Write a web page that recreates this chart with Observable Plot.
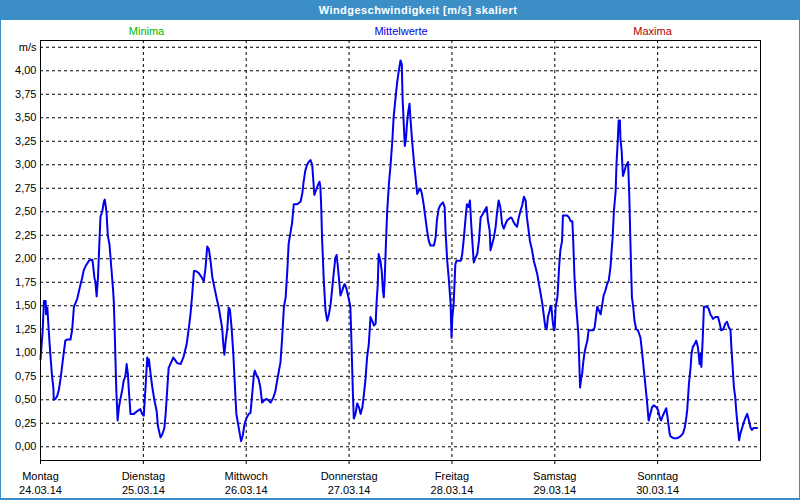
<!DOCTYPE html>
<html>
<head>
<meta charset="utf-8">
<script src="https://cdn.jsdelivr.net/npm/d3@7"></script>
<script src="https://cdn.jsdelivr.net/npm/@observablehq/plot@0.6"></script>
<style>
  html, body { margin: 0; padding: 0; background: #ffffff; }
  #wrap { position: relative; width: 800px; height: 500px; overflow: hidden; background: #ffffff; font-family: "Liberation Sans", Arial, sans-serif; }
  #titlebar { position: absolute; left: 0; top: 0; width: 800px; height: 20px; background: #3c8fc6; color: #ffffff; font-weight: bold; font-size: 11px; line-height: 20px; text-align: center; box-sizing: border-box; padding-left: 36px; letter-spacing: 0.45px; }
  .leg { position: absolute; top: 25px; font-size: 11px; line-height: 13px; transform: translateX(-50%); white-space: nowrap; }
  #border { position: absolute; left: 0; top: 0; width: 800px; height: 500px; box-sizing: border-box; border-left: 1px solid #3c8fc6; border-right: 1px solid #3c8fc6; border-bottom: 2px solid #3c8fc6; pointer-events: none; }
  #chart { position: absolute; left: 0; top: 36px; }
</style>
</head>
<body>
<div id="wrap">
  <div id="titlebar">Windgeschwindigkeit [m/s] skaliert</div>
  <div class="leg" style="left:146.5px;color:#00b800;">Minima</div>
  <div class="leg" style="left:401px;color:#0000e0;">Mittelwerte</div>
  <div class="leg" style="left:652.5px;color:#b00000;">Maxima</div>
  <div id="chart"></div>
  <div id="border"></div>
</div>
<script>
// Hours since Monday 24.03.14 00:00
const hours = [
  0,0.5,0.8,1.2,1.3,1.6,1.9,2.3,2.7,3.0,3.1,3.5,3.9,4.3,4.7,5.1,5.4,5.8,6.2,7.0,7.4,7.8,8.2,8.6,8.9,9.3,9.7,10.1,10.5,10.9,11.3,12.1,12.3,12.6,12.8,13.1,13.4,13.6,13.8,14.0,14.4,14.8,15.0,15.4,15.7,16.1,16.5,16.9,17.1,17.3,17.5,17.7,18.0,18.3,18.7,19.1,19.4,19.8,20.1,20.4,20.6,21.0,21.8,22.6,23.3,23.7,24.1,
  24.5,24.9,25.1,25.3,25.7,26.1,26.6,27.1,27.4,28.0,28.4,28.9,29.2,29.6,29.9,30.3,31.0,31.9,32.7,33.4,34.1,34.6,35.0,35.4,35.8,36.2,36.9,37.5,38.1,38.5,38.9,39.3,39.7,40.1,40.6,41.1,41.6,42.0,42.4,42.6,42.9,43.2,43.6,43.9,44.2,44.6,45.0,45.3,45.7,46.3,46.8,47.2,47.6,
  48.1,48.6,49.0,49.4,49.8,50.0,50.5,50.9,51.3,51.7,52.1,52.7,53.3,53.7,54.3,54.8,55.2,55.6,56.0,56.4,56.8,57.2,57.6,57.9,58.3,58.7,59.1,59.9,60.7,61.1,61.4,61.8,62.2,62.6,63.0,63.4,63.6,63.9,64.3,64.7,65.1,65.3,65.5,65.7,66.1,66.5,66.9,67.3,67.7,68.1,68.4,68.8,69.1,69.4,69.6,70.0,70.4,70.8,71.0,71.4,71.9,
  72.3,72.5,72.7,72.9,73.1,73.5,73.9,74.3,74.7,75.1,75.4,75.8,76.2,76.6,77.0,77.4,77.8,78.2,78.4,78.7,78.9,79.3,79.6,79.9,80.1,80.3,80.6,80.9,81.3,81.7,82.1,82.4,82.8,83.2,83.6,84.0,84.3,84.5,84.8,85.0,85.3,85.5,85.8,86.1,86.3,86.7,87.1,87.5,87.9,88.3,88.7,89.0,89.4,89.8,90.2,90.6,91.0,91.8,92.2,92.5,92.9,93.3,93.9,94.3,94.5,94.9,95.3,95.7,95.9,96.1,
  96.4,96.8,97.1,98.1,98.4,98.8,99.2,99.5,99.9,100.2,100.5,100.7,101.1,101.5,101.9,102.3,102.7,103.0,103.6,104.1,104.4,104.8,105.0,105.4,105.8,106.2,106.5,106.9,107.3,107.7,108.1,108.5,108.9,109.7,110.0,110.4,110.8,111.2,111.6,112.0,112.4,112.8,113.2,113.5,113.9,114.2,
  114.7,115.1,115.5,115.9,116.3,116.7,117.1,117.4,117.8,118.1,118.4,118.8,119.0,119.2,119.5,119.8,120.0,120.2,120.6,120.8,121.0,121.3,121.7,121.9,122.1,122.9,123.3,123.7,124.1,124.3,124.6,124.9,125.2,125.5,125.7,125.9,126.2,126.4,126.6,126.9,127.2,127.6,127.9,128.5,129.0,129.3,129.6,129.9,130.3,130.7,131.1,131.4,131.8,132.2,132.6,133.0,133.2,133.5,133.8,134.2,134.4,134.7,134.9,135.2,135.3,135.6,135.9,136.3,136.6,136.9,137.1,137.4,137.6,137.8,138.0,138.3,138.6,139.0,139.4,140.0,140.4,140.8,141.2,141.5,141.9,142.3,142.7,143.1,143.7,
  144.1,144.5,144.8,145.2,145.6,146.0,146.2,146.4,146.8,147.0,147.8,148.5,149.3,149.9,150.3,150.6,150.9,151.1,151.3,151.7,151.9,152.2,152.6,153.0,153.4,153.8,154.0,154.2,154.5,154.8,155.2,155.5,155.9,156.3,156.7,156.9,157.5,158.1,158.5,158.8,159.3,159.8,160.2,160.6,161.0,161.2,161.5,161.8,162.1,162.4,162.7,163.0,163.3,163.7,164.1,164.5,164.9,165.3,165.7,166.0,166.4,167.2
];
// Wind speed in m/s
const speeds = [
  0.93,1.23,1.55,1.55,1.41,1.48,1.25,0.98,0.75,0.63,0.50,0.51,0.54,0.61,0.73,0.88,0.99,1.13,1.14,1.14,1.25,1.49,1.53,1.58,1.64,1.72,1.79,1.88,1.92,1.95,1.98,1.99,1.92,1.79,1.76,1.60,1.79,2.01,2.24,2.45,2.50,2.61,2.63,2.50,2.25,2.15,1.92,1.69,1.55,1.25,0.91,0.59,0.28,0.42,0.52,0.61,0.70,0.75,0.88,0.77,0.61,0.35,0.35,0.38,0.40,0.35,0.33,
  0.63,0.95,0.86,0.93,0.77,0.63,0.49,0.38,0.22,0.10,0.13,0.20,0.35,0.63,0.84,0.88,0.95,0.89,0.88,0.96,1.09,1.26,1.41,1.62,1.87,1.87,1.85,1.81,1.76,1.90,2.13,2.10,1.97,1.80,1.69,1.58,1.48,1.37,1.26,1.12,0.98,1.12,1.26,1.48,1.46,1.26,0.98,0.70,0.35,0.19,0.06,0.12,0.24,
  0.31,0.35,0.36,0.56,0.77,0.81,0.75,0.72,0.63,0.47,0.49,0.51,0.49,0.47,0.52,0.59,0.70,0.80,0.90,1.17,1.49,1.59,1.88,2.16,2.27,2.38,2.58,2.58,2.61,2.70,2.82,2.94,3.00,3.03,3.05,3.00,2.87,2.68,2.73,2.78,2.82,2.77,2.55,2.22,1.77,1.45,1.34,1.41,1.52,1.70,1.84,2.01,2.04,1.91,1.81,1.61,1.66,1.72,1.73,1.68,1.58,
  1.49,1.20,0.88,0.56,0.30,0.35,0.46,0.42,0.35,0.42,0.53,0.70,0.95,1.09,1.38,1.34,1.29,1.31,1.52,1.73,2.05,1.98,1.88,1.66,1.59,1.77,2.16,2.51,2.80,3.01,3.26,3.51,3.69,3.87,4.00,4.11,4.07,3.69,3.40,3.20,3.29,3.43,3.56,3.65,3.51,3.26,3.05,2.87,2.69,2.73,2.74,2.69,2.58,2.44,2.30,2.19,2.14,2.14,2.23,2.41,2.53,2.57,2.60,2.55,2.30,1.98,1.77,1.52,1.16,1.38,
  1.52,1.94,1.98,1.98,2.05,2.23,2.44,2.58,2.55,2.62,2.37,2.23,1.96,2.01,2.05,2.19,2.44,2.46,2.51,2.55,2.41,2.30,2.09,2.16,2.23,2.34,2.48,2.62,2.55,2.37,2.32,2.37,2.41,2.44,2.43,2.39,2.36,2.34,2.44,2.51,2.57,2.66,2.62,2.44,2.30,2.19,
  2.09,1.98,1.91,1.84,1.73,1.63,1.52,1.41,1.27,1.25,1.38,1.45,1.50,1.49,1.34,1.24,1.27,1.49,1.59,1.73,1.91,2.09,2.19,2.46,2.46,2.46,2.44,2.40,2.40,2.19,1.80,1.56,1.38,1.20,0.92,0.63,0.74,0.78,0.88,0.99,1.06,1.13,1.24,1.24,1.24,1.27,1.38,1.49,1.45,1.41,1.52,1.61,1.66,1.73,1.77,1.91,2.05,2.23,2.51,2.72,3.01,3.26,3.47,3.47,3.29,3.15,2.88,2.94,2.99,3.01,3.03,2.65,2.26,1.91,1.59,1.49,1.34,1.25,1.24,1.16,0.99,0.81,0.63,0.49,0.28,0.35,0.42,0.44,0.42,
  0.39,0.31,0.28,0.33,0.37,0.41,0.35,0.28,0.14,0.11,0.09,0.09,0.11,0.14,0.20,0.28,0.39,0.53,0.67,0.85,0.99,1.06,1.09,1.13,1.06,0.88,0.99,0.85,1.13,1.49,1.49,1.49,1.47,1.41,1.38,1.36,1.38,1.38,1.31,1.24,1.25,1.31,1.33,1.27,1.24,1.06,0.85,0.63,0.53,0.35,0.21,0.07,0.14,0.20,0.26,0.31,0.35,0.28,0.20,0.18,0.20,0.20
];
// Axis ticks and labels
const dayTicks = [0, 24, 48, 72, 96, 120, 144];
const dayNames = ["Montag", "Dienstag", "Mittwoch", "Donnerstag", "Freitag", "Samstag", "Sonntag"];
const dayDates = ["24.03.14", "25.03.14", "26.03.14", "27.03.14", "28.03.14", "29.03.14", "30.03.14"];
const yTicks = [0, 0.25, 0.5, 0.75, 1, 1.25, 1.5, 1.75, 2, 2.25, 2.5, 2.75, 3, 3.25, 3.5, 3.75, 4];
const unitTick = 4.25;
const unitLabel = "m/s";

const data = hours.map((h, i) => ({h, v: speeds[i]}));
const gridY = yTicks.concat([unitTick]);
const fmt = v => v === unitTick ? unitLabel : v.toFixed(2).replace(".", ",");

const chart = Plot.plot({
  width: 800,
  height: 464,
  marginLeft: 40,
  marginRight: 40,
  marginTop: 4,
  marginBottom: 40,
  style: {fontFamily: "'Liberation Sans', Arial, sans-serif", fontSize: "11px", color: "#000", background: "transparent", overflow: "visible"},
  x: {type: "linear", domain: [0, 168]},
  y: {domain: [-0.146, 4.322]},
  marks: [
    Plot.ruleY(gridY, {stroke: "#000", strokeWidth: 1, strokeDasharray: "3,3"}),
    Plot.ruleX(dayTicks.slice(1), {stroke: "#000", strokeWidth: 1, strokeDasharray: "3,3"}),
    Plot.line(data, {x: "h", y: "v", stroke: "#0000ee", strokeWidth: 2}),
    Plot.frame({stroke: "#000", strokeWidth: 1}),
    Plot.axisY(gridY, {tickSize: 0, tickPadding: 4, tickFormat: fmt, label: null, fill: "#000"}),
    Plot.axisX(dayTicks, {tickSize: 4, tickPadding: 5, lineHeight: 1.3, label: null, fill: "#000", stroke: "#000",
      tickFormat: d => dayNames[d / 24] + "\n" + dayDates[d / 24]})
  ]
});
document.getElementById("chart").appendChild(chart);
</script>
</body>
</html>
